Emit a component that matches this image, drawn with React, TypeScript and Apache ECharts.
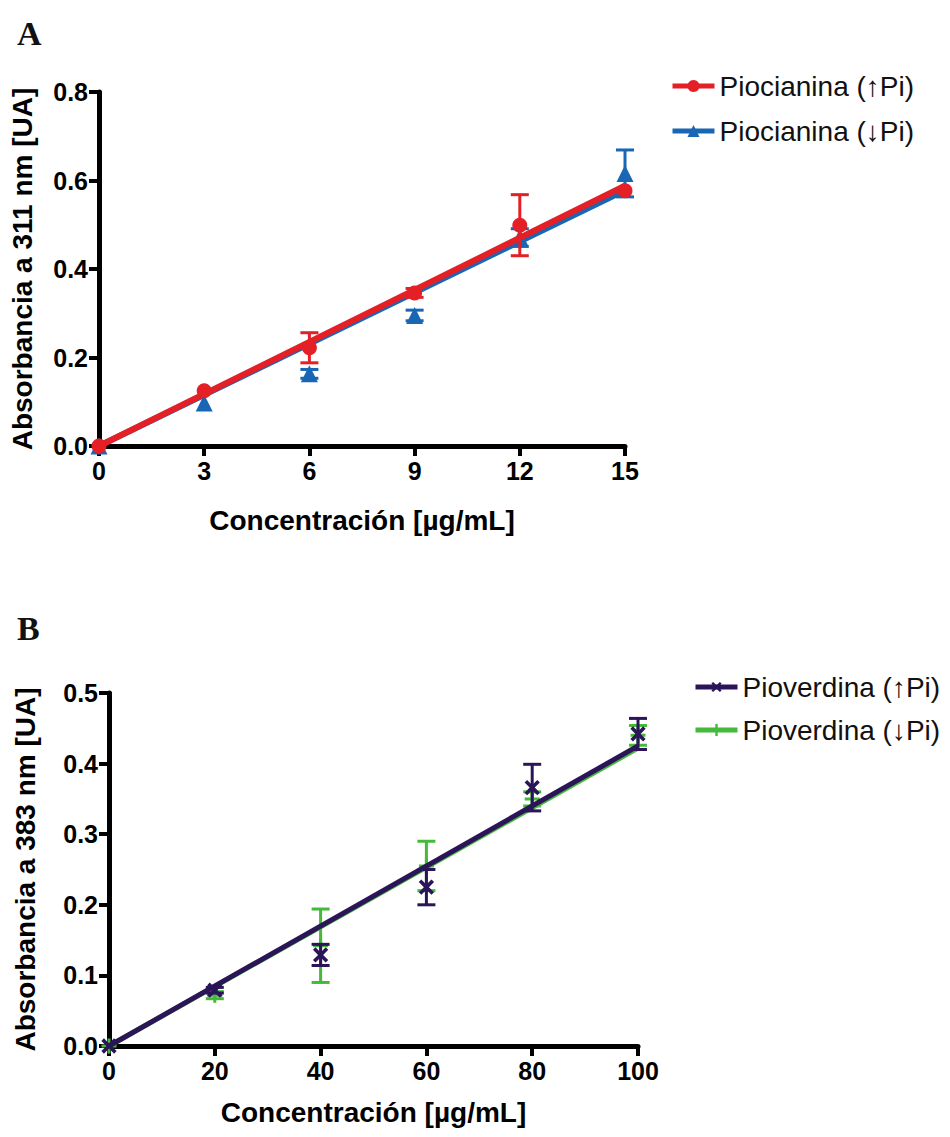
import React, { useEffect, useRef } from "react";
import * as echarts from "echarts";

// ---------- Panel A data (Piocianina) ----------
const concA = [0, 3, 6, 9, 12, 15];
const pyoHighMean = [0.0, 0.125, 0.222, 0.346, 0.499, 0.577];
const pyoHighErr = [0.0, 0.0, 0.034, 0.01, 0.069, 0.0];
const pyoLowMean = [0.0, 0.097, 0.163, 0.295, 0.471, 0.616];
const pyoLowErr = [0.0, 0.0, 0.01, 0.012, 0.02, 0.053];
const fitAx = [0, 15];
const fitPyoHigh = [0.0, 0.588];
const fitPyoLow = [0.0, 0.578];
const ticksAx = [0, 3, 6, 9, 12, 15];

// ---------- Panel B data (Pioverdina) ----------
const concB = [0, 20, 40, 60, 80, 100];
const pvdHighMean = [0.0, 0.079, 0.129, 0.225, 0.366, 0.442];
const pvdHighErr = [0.0, 0.004, 0.015, 0.025, 0.033, 0.022];
const pvdLowMean = [0.0, 0.072, 0.142, 0.255, 0.35, 0.44];
const pvdLowErr = [0.0, 0.005, 0.052, 0.035, 0.01, 0.014];
const fitBx = [0, 100];
const fitPvdHigh = [0.0, 0.425];
const fitPvdLow = [0.0, 0.422];

const nameA1 = "Piocianina (↑Pi)";
const nameA2 = "Piocianina (↓Pi)";
const nameB1 = "Pioverdina (↑Pi)";
const nameB2 = "Pioverdina (↓Pi)";

const RED = "#e41f26";
const BLUE = "#1866b4";
const PURPLE = "#2b1458";
const GREEN = "#45b93a";

const PLUS = "path://M4,0 L6,0 L6,4 L10,4 L10,6 L6,6 L6,10 L4,10 L4,6 L0,6 L0,4 L4,4 Z";

const SANS = "Liberation Sans";

function pts(xs: number[], ys: number[]) {
  return xs.map((x, i) => [x, ys[i]]);
}
function errs(xs: number[], m: number[], e: number[]) {
  return xs.map((x, i) => [x, m[i] - e[i], m[i] + e[i]]).filter((_, i) => e[i] > 0);
}

function errorSeries(name: string, data: number[][], color: string, idx: number, z: number) {
  return {
    type: "custom",
    name,
    xAxisIndex: idx,
    yAxisIndex: idx,
    z,
    data,
    encode: { x: 0, y: [1, 2] },
    renderItem: (_p: any, api: any) => {
      const x = api.value(0);
      const lo = api.coord([x, api.value(1)]);
      const hi = api.coord([x, api.value(2)]);
      const hw = 9;
      const st = { stroke: color, lineWidth: 3 };
      return {
        type: "group",
        children: [
          { type: "line", shape: { x1: lo[0], y1: lo[1], x2: hi[0], y2: hi[1] }, style: st },
          { type: "line", shape: { x1: lo[0] - hw, y1: lo[1], x2: lo[0] + hw, y2: lo[1] }, style: st },
          { type: "line", shape: { x1: hi[0] - hw, y1: hi[1], x2: hi[0] + hw, y2: hi[1] }, style: st },
        ],
      };
    },
  };
}

function fitSeries(name: string, xs: number[], ys: number[], color: string, symbol: string, symbolSize: number, rotate: number, idx: number, z: number, width: number) {
  return {
    type: "line",
    name,
    xAxisIndex: idx,
    yAxisIndex: idx,
    z,
    data: pts(xs, ys),
    showSymbol: false,
    symbol,
    symbolSize,
    symbolRotate: rotate,
    itemStyle: { color },
    lineStyle: { color, width },
    emphasis: { disabled: true },
  };
}

function pointSeries(name: string, xs: number[], ys: number[], color: string, symbol: string, symbolSize: number, rotate: number, idx: number, z: number) {
  return {
    type: "scatter",
    name,
    xAxisIndex: idx,
    yAxisIndex: idx,
    z,
    data: pts(xs, ys),
    symbol,
    symbolSize,
    symbolRotate: rotate,
    itemStyle: { color, opacity: 1 },
  };
}

function axisCommon() {
  return {
    axisLine: { show: true, onZero: false, lineStyle: { color: "#000", width: 5 } },
    axisTick: { show: true, inside: false, length: 10, lineStyle: { color: "#000", width: 4 } },
    splitLine: { show: false },
    axisLabel: { color: "#000", fontFamily: SANS, fontWeight: "bold", fontSize: 25 },
    nameTextStyle: { color: "#000", fontFamily: SANS, fontWeight: "bold", fontSize: 28 },
  };
}

export default function App() {
  const ref = useRef<HTMLDivElement>(null);
  useEffect(() => {
    if (!ref.current) return;
    const chart = echarts.init(ref.current, undefined, { renderer: "svg" });
    const ac = axisCommon();
    const option: any = {
      animation: false,
      backgroundColor: "#fff",
      title: [
        { text: "A", left: 12, top: 11, textStyle: { fontFamily: "Liberation Serif", fontWeight: "bold", fontSize: 34, color: "#111" } },
        { text: "B", left: 12, top: 606, textStyle: { fontFamily: "Liberation Serif", fontWeight: "bold", fontSize: 34, color: "#111" } },
      ],
      legend: [
        {
          data: [nameA1, nameA2],
          orient: "vertical",
          left: 665,
          top: 67,
          itemWidth: 42,
          itemHeight: 15,
          itemGap: 17,
          lineStyle: { width: 5 },
          textStyle: { fontFamily: SANS, fontSize: 28, color: "#111" },
          selectedMode: false,
        },
        {
          data: [nameB1, nameB2],
          orient: "vertical",
          left: 688,
          top: 668,
          itemWidth: 42,
          itemHeight: 15,
          itemGap: 15,
          lineStyle: { width: 5 },
          textStyle: { fontFamily: SANS, fontSize: 28, color: "#111" },
          selectedMode: false,
        },
      ],
      grid: [
        { left: 99, top: 92, width: 526, height: 354 },
        { left: 109, top: 693, width: 529, height: 353 },
      ],
      xAxis: [
        {
          ...ac,
          type: "value",
          gridIndex: 0,
          min: ticksAx[0],
          max: ticksAx[ticksAx.length - 1],
          interval: 3,
          name: "Concentración [µg/mL]",
          nameLocation: "middle",
          nameGap: 60,
          axisLabel: { ...ac.axisLabel, margin: 12 },
        },
        {
          ...ac,
          type: "value",
          gridIndex: 1,
          min: 0,
          max: 100,
          interval: 20,
          name: "Concentración [µg/mL]",
          nameLocation: "middle",
          nameGap: 52,
          axisLabel: { ...ac.axisLabel, margin: 12 },
        },
      ],
      yAxis: [
        {
          ...ac,
          type: "value",
          gridIndex: 0,
          min: 0,
          max: 0.8,
          interval: 0.2,
          name: "Absorbancia a 311 nm [UA]",
          nameLocation: "middle",
          nameGap: 63,
          axisLabel: { ...ac.axisLabel, margin: 11, formatter: (v: number) => v.toFixed(1) },
        },
        {
          ...ac,
          type: "value",
          gridIndex: 1,
          min: 0,
          max: 0.5,
          interval: 0.1,
          name: "Absorbancia a 383 nm [UA]",
          nameLocation: "middle",
          nameGap: 70,
          axisLabel: { ...ac.axisLabel, margin: 11, formatter: (v: number) => v.toFixed(1) },
        },
      ],
      series: [
        // Panel A
        fitSeries(nameA2, fitAx, fitPyoLow, BLUE, "triangle", 15, 0, 0, 2, 6),
        pointSeries("pts-low-A", concA, pyoLowMean, BLUE, "triangle", 17, 0, 0, 3),
        errorSeries("err-low-A", errs(concA, pyoLowMean, pyoLowErr), BLUE, 0, 3),
        fitSeries(nameA1, fitAx, fitPyoHigh, RED, "circle", 15, 0, 0, 4, 6),
        pointSeries("pts-high-A", concA, pyoHighMean, RED, "circle", 15, 0, 0, 5),
        errorSeries("err-high-A", errs(concA, pyoHighMean, pyoHighErr), RED, 0, 5),
        // Panel B
        fitSeries(nameB2, fitBx, fitPvdLow, GREEN, PLUS, 14, 0, 1, 2, 5),
        pointSeries("pts-low-B", concB, pvdLowMean, GREEN, PLUS, 15, 0, 1, 3),
        errorSeries("err-low-B", errs(concB, pvdLowMean, pvdLowErr), GREEN, 1, 3),
        fitSeries(nameB1, fitBx, fitPvdHigh, PURPLE, PLUS, 17, 45, 1, 4, 5),
        pointSeries("pts-high-B", concB, pvdHighMean, PURPLE, PLUS, 18, 45, 1, 5),
        errorSeries("err-high-B", errs(concB, pvdHighMean, pvdHighErr), PURPLE, 1, 5),
      ],
    };
    chart.setOption(option);
    return () => chart.dispose();
  }, []);
  return (
    <div
      ref={ref}
      style={{ position: "absolute", left: 0, top: 0, width: 950, height: 1137, background: "#fff" }}
    />
  );
}
